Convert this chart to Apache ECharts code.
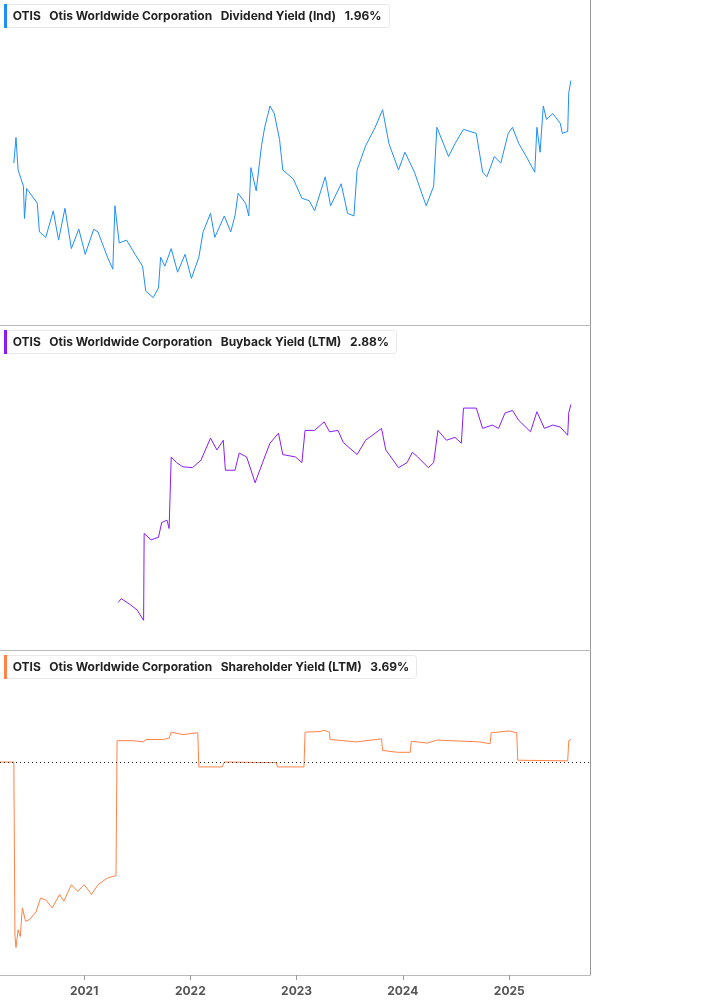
<!DOCTYPE html>
<html><head><meta charset="utf-8">
<script src="https://cdn.jsdelivr.net/npm/echarts@6/dist/echarts.min.js"></script>
<style>html,body{margin:0;padding:0;background:#fff}#c{width:717px;height:1005px}</style>
</head><body><div id="c"></div>
<script>
// decimal-year dates and values
const divDates = [2020.34,2020.36,2020.38,2020.43,2020.44,2020.46,2020.56,2020.58,2020.64,2020.71,2020.76,2020.82,2020.88,2020.95,2021.01,2021.09,2021.13,2021.22,2021.27,2021.29,2021.33,2021.40,2021.48,2021.55,2021.58,2021.65,2021.70,2021.72,2021.76,2021.82,2021.88,2021.95,2022.01,2022.08,2022.12,2022.19,2022.23,2022.32,2022.38,2022.42,2022.45,2022.52,2022.55,2022.57,2022.62,2022.67,2022.70,2022.75,2022.79,2022.84,2022.87,2022.97,2023.05,2023.12,2023.17,2023.27,2023.32,2023.42,2023.48,2023.54,2023.57,2023.65,2023.74,2023.81,2023.87,2023.96,2024.02,2024.11,2024.17,2024.22,2024.29,2024.32,2024.39,2024.43,2024.49,2024.57,2024.69,2024.75,2024.79,2024.86,2024.92,2024.99,2025.03,2025.09,2025.16,2025.24,2025.26,2025.29,2025.32,2025.35,2025.41,2025.48,2025.50,2025.55,2025.56,2025.58];
const divValues = [1.54,1.66,1.51,1.44,1.31,1.43,1.37,1.26,1.24,1.34,1.23,1.35,1.20,1.27,1.18,1.27,1.26,1.17,1.13,1.36,1.22,1.23,1.18,1.14,1.06,1.04,1.07,1.17,1.14,1.20,1.12,1.18,1.10,1.17,1.26,1.33,1.24,1.32,1.26,1.32,1.41,1.37,1.32,1.52,1.42,1.62,1.71,1.82,1.78,1.65,1.51,1.47,1.39,1.38,1.34,1.48,1.36,1.45,1.33,1.32,1.51,1.62,1.71,1.80,1.63,1.51,1.59,1.50,1.42,1.36,1.44,1.71,1.62,1.57,1.63,1.70,1.68,1.50,1.48,1.57,1.54,1.68,1.71,1.63,1.57,1.50,1.71,1.59,1.82,1.75,1.78,1.73,1.68,1.69,1.89,1.96];
const bbDates = [2021.32,2021.35,2021.43,2021.50,2021.56,2021.565,2021.63,2021.70,2021.73,2021.78,2021.80,2021.82,2021.87,2021.93,2022.02,2022.10,2022.19,2022.25,2022.31,2022.33,2022.42,2022.46,2022.53,2022.61,2022.68,2022.75,2022.83,2022.87,2022.99,2023.05,2023.08,2023.17,2023.26,2023.31,2023.39,2023.44,2023.57,2023.65,2023.74,2023.80,2023.84,2023.96,2024.04,2024.09,2024.14,2024.24,2024.29,2024.33,2024.41,2024.49,2024.55,2024.57,2024.69,2024.75,2024.84,2024.90,2024.96,2025.03,2025.09,2025.20,2025.26,2025.33,2025.41,2025.48,2025.55,2025.56,2025.58];
const bbValues = [0.89,0.91,0.88,0.85,0.80,1.34,1.29,1.31,1.43,1.45,1.38,2.11,2.04,1.99,1.98,2.07,2.36,2.20,2.33,1.95,1.95,2.16,2.11,1.81,2.04,2.29,2.43,2.14,2.11,2.04,2.47,2.47,2.60,2.45,2.47,2.30,2.14,2.33,2.43,2.50,2.20,1.98,2.04,2.17,2.11,1.98,2.04,2.47,2.33,2.37,2.29,2.82,2.82,2.50,2.55,2.50,2.74,2.78,2.62,2.45,2.76,2.50,2.55,2.52,2.40,2.74,2.88];
const shDates = [2020.21,2020.34,2020.35,2020.36,2020.38,2020.40,2020.42,2020.45,2020.49,2020.55,2020.59,2020.64,2020.70,2020.77,2020.81,2020.88,2020.94,2021.00,2021.07,2021.13,2021.22,2021.30,2021.31,2021.46,2021.56,2021.58,2021.74,2021.80,2021.82,2021.93,2022.07,2022.08,2022.30,2022.32,2022.81,2022.82,2023.07,2023.08,2023.22,2023.26,2023.31,2023.315,2023.56,2023.80,2023.81,2023.95,2024.07,2024.08,2024.23,2024.32,2024.72,2024.82,2024.83,2025.00,2025.07,2025.08,2025.55,2025.56,2025.58];
const shValues = [0,0,-28.3,-30.4,-27.5,-28.6,-23.9,-26.1,-25.8,-24.5,-22.3,-22.6,-23.9,-21.7,-22.8,-20.1,-21.2,-20.1,-21.7,-20.1,-19.0,-18.6,3.5,3.5,3.3,3.7,3.7,3.9,4.9,4.5,4.8,-0.8,-0.8,0,-0.1,-0.8,-0.8,4.9,5.0,5.2,4.9,3.7,3.3,3.8,1.9,1.6,1.6,3.4,3.1,3.6,3.3,3.0,4.8,5.1,4.8,0.3,0.2,3.5,3.69];
const divTicks = [2.00,1.00,0.97];
const bbTicks = [4.00,2.00,1.00,0.85,0.68];
const shTicks = [10,0,-10,-20,-30];
const xMin = 2020.21, xMax = 2025.76;

function ts(y){const yr=Math.floor(y);const a=Date.UTC(yr,0,1),b=Date.UTC(yr+1,0,1);return a+(y-yr)*(b-a);}
function pairs(d,v){return d.map((x,i)=>[ts(x),v[i]]);}
const FONT='Inter, "Noto Sans", sans-serif';
const colors=['#1f8efa','#8a1cf5','#ff8247'];
const grids=[{top:0,height:325},{top:326,height:324},{top:651,height:324}];

function tickLines(ticks,fmt){
  return ticks.map(t=>({yAxis:t,lineStyle:{opacity:0},label:{show:true,position:'end',distance:8,color:'#555',fontSize:12,fontFamily:FONT,formatter:'· '+fmt(t)}}));
}
function badge(val,txt,col){
  return {yAxis:val,lineStyle:{opacity:0},label:{show:true,position:'end',distance:1,formatter:'{a|'+txt+'}\n{a|'+val.toFixed(2)+'%}',backgroundColor:col,padding:[4,0,4,0],rich:{a:{width:126,align:'center',color:'#fff',fontWeight:'bold',fontSize:11,fontFamily:FONT,lineHeight:12}}}};
}
function legend(i,metric,val){
  return {left:4,top:grids[i].top+4,padding:[0,8,0,0],backgroundColor:'#fff',borderColor:'#e8e8e8',borderWidth:1,borderRadius:3,
    text:'{bar|}{b|  OTIS   Otis Worldwide Corporation   }{n|'+metric+'   }{b|'+val+'}',
    textStyle:{rich:{bar:{backgroundColor:colors[i],width:3,height:24},b:{fontWeight:'bold',fontSize:12,color:'#222',fontFamily:FONT},n:{fontSize:12,color:'#222',fontFamily:FONT}}}};
}
const fmtPct=t=>t.toFixed(2)+'%';
const opt={animation:false,
  title:[legend(0,'Dividend Yield (Ind)','1.96%'),legend(1,'Buyback Yield (LTM)','2.88%'),legend(2,'Shareholder Yield (LTM)','3.69%')],
  grid:grids.map(g=>({left:0,right:127,top:g.top,height:g.height})),
  xAxis:[0,1,2].map(i=>({type:'time',gridIndex:i,min:ts(xMin),max:ts(xMax),
    axisLine:{show:true,onZero:false,lineStyle:{color:'#bbb'}},
    axisTick:{show:i===2,lineStyle:{color:'#999'},length:5},
    axisLabel:{show:i===2,color:'#555',fontWeight:'bold',fontSize:12,fontFamily:FONT,formatter:'{yyyy}',margin:10},
    minInterval:365*864e5,maxInterval:366*864e5,splitLine:{show:false}})),
  yAxis:[
    {type:'log',gridIndex:0,position:'right',min:0.96,max:2.48,axisLine:{show:true,lineStyle:{color:'#999'}},axisLabel:{show:false},axisTick:{show:false},splitLine:{show:false}},
    {type:'log',gridIndex:1,position:'right',min:0.671,max:4.59,axisLine:{show:true,lineStyle:{color:'#999'}},axisLabel:{show:false},axisTick:{show:false},splitLine:{show:false}},
    {type:'value',gridIndex:2,position:'right',min:-34.9,max:18.2,axisLine:{show:true,lineStyle:{color:'#999'}},axisLabel:{show:false},axisTick:{show:false},splitLine:{show:false}}
  ],
  series:[
    {type:'line',clip:false,xAxisIndex:0,yAxisIndex:0,data:pairs(divDates,divValues),showSymbol:false,lineStyle:{width:1,color:colors[0]},
      markLine:{symbol:'none',silent:true,animation:false,data:[...tickLines(divTicks,t=>fmtPct(t)),badge(divValues[divValues.length-1],'Div Yld (Ind)',colors[0])]}},
    {type:'line',clip:false,xAxisIndex:1,yAxisIndex:1,data:pairs(bbDates,bbValues),showSymbol:false,lineStyle:{width:1,color:colors[1]},
      markLine:{symbol:'none',silent:true,animation:false,data:[...tickLines(bbTicks,t=>fmtPct(t)),badge(bbValues[bbValues.length-1],'Buyback Yield (LTM)',colors[1])]}},
    {type:'line',clip:false,xAxisIndex:2,yAxisIndex:2,data:pairs(shDates,shValues),showSymbol:false,lineStyle:{width:1,color:colors[2]},
      markLine:{symbol:'none',silent:true,animation:false,data:[
        {yAxis:0,lineStyle:{type:[1,3],color:'#222',width:1,opacity:1},label:{show:false}},
        ...tickLines(shTicks,t=>fmtPct(t)),badge(shValues[shValues.length-1],'Shr Yld (LTM)',colors[2])]}}
  ]
};
echarts.init(document.getElementById('c'),null,{renderer:'canvas'}).setOption(opt);
</script></body></html>
